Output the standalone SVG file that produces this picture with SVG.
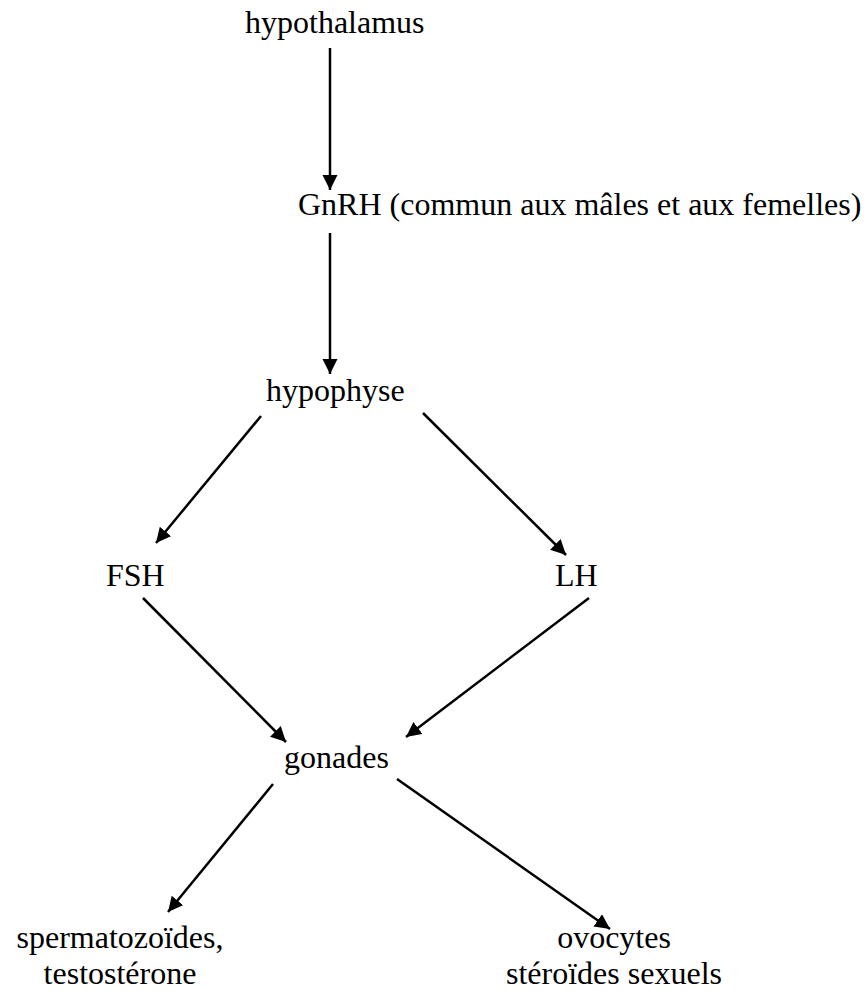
<svg xmlns="http://www.w3.org/2000/svg" width="867" height="996" viewBox="0 0 867 996">
<defs>
<style>
text{font-family:"Liberation Serif","Times New Roman",serif;font-size:32px;fill:#000}
.c{stroke:#000;stroke-width:2.5;fill:none}
</style>
<marker id="ah" markerUnits="userSpaceOnUse" markerWidth="16" markerHeight="16" refX="15" refY="7.5" orient="auto">
<path d="M0,0 L15,7.5 L0,15 z" fill="#000"/>
</marker>
</defs>
<rect width="867" height="996" fill="#fff"/>
<g id="hypothalamus"><text x="245" y="33">hypothalamus</text></g>
<g id="gnrh"><text x="298" y="215">GnRH (commun aux mâles et aux femelles)</text></g>
<g id="hypophyse"><text x="266" y="401">hypophyse</text></g>
<g id="fsh"><text x="106" y="586">FSH</text></g>
<g id="lh"><text x="555" y="586">LH</text></g>
<g id="gonades"><text x="284" y="768">gonades</text></g>
<g id="sperm"><text x="120" y="948" text-anchor="middle">spermatozoïdes,</text><text x="120" y="984" text-anchor="middle">testostérone</text></g>
<g id="ovo"><text x="614" y="948" text-anchor="middle">ovocytes</text><text x="614" y="984" text-anchor="middle">stéroïdes sexuels</text></g>
<g id="connectors">
<line class="c" x1="330" y1="48" x2="330" y2="190" marker-end="url(#ah)"/>
<line class="c" x1="330" y1="233" x2="330" y2="374" marker-end="url(#ah)"/>
<line class="c" x1="261" y1="416" x2="156" y2="543" marker-end="url(#ah)"/>
<line class="c" x1="423" y1="413" x2="566" y2="555" marker-end="url(#ah)"/>
<line class="c" x1="143" y1="598" x2="286" y2="742" marker-end="url(#ah)"/>
<line class="c" x1="589" y1="598" x2="406" y2="737" marker-end="url(#ah)"/>
<line class="c" x1="273" y1="784" x2="168" y2="912" marker-end="url(#ah)"/>
<line class="c" x1="397" y1="779" x2="610" y2="929" marker-end="url(#ah)"/>
</g>
</svg>
